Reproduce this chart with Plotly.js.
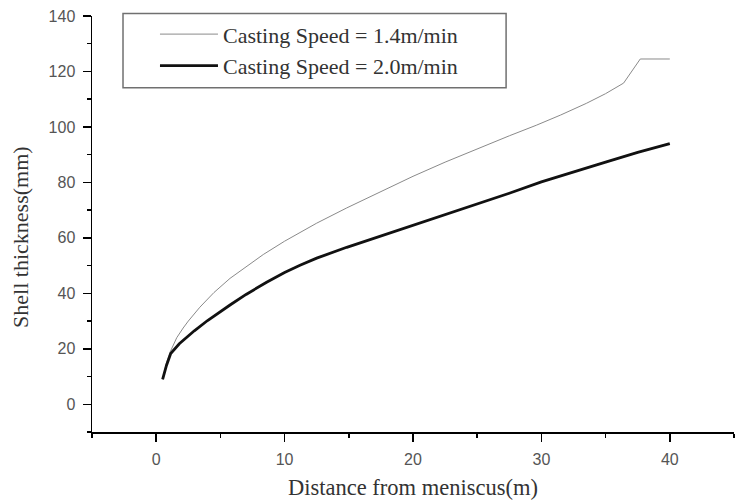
<!DOCTYPE html>
<html>
<head>
<meta charset="utf-8">
<script src="https://cdn.plot.ly/plotly-3.0.1.min.js"></script>
<style>html,body{margin:0;padding:0;background:#fff}#chart{width:743px;height:502px}</style>
</head>
<body>
<div id="chart"></div>
<script>
// Casting speed 1.4 m/min
const dist14 = [0.5, 0.8, 1.1, 1.6, 2.1, 2.5, 3.4, 4.5, 5.75, 7, 8.34, 10, 11.2, 12.5, 14.84, 17.5, 20, 22.5, 25.2, 27.5, 29.6, 31.5, 33.5, 35, 36.4, 37.7, 40];
const shell14 = [9, 15, 19, 24, 27.5, 30, 35, 40.3, 45.4, 49.7, 54, 58.8, 62, 65.3, 70.8, 76.8, 82.2, 87.3, 92.5, 96.8, 100.6, 104.3, 108.5, 112, 115.8, 124.5, 124.5];
// Casting speed 2.0 m/min
const dist20 = [0.5, 0.8, 1.13, 1.8, 2.97, 4, 5.75, 7, 8.6, 10, 11.2, 12.5, 14.84, 17.5, 20, 22.5, 25.2, 27.5, 30, 32.2, 35, 37.5, 40];
const shell20 = [9, 14, 18.3, 21.8, 26.5, 30.2, 35.8, 39.6, 44, 47.5, 50.1, 52.7, 56.6, 60.7, 64.5, 68.4, 72.5, 76.1, 80.2, 83.4, 87.3, 90.8, 94];
const seriesNames = ["Casting Speed = 1.4m/min", "Casting Speed = 2.0m/min"];
const xTitle = "Distance from meniscus(m)";
const yTitle = "Shell thickness(mm)";

const serif = "Liberation Serif, Times New Roman, serif";
const sans = "Liberation Sans, Arial, sans-serif";

const traces = [
  {x: dist14, y: shell14, mode: "lines", name: seriesNames[0],
   line: {color: "#8a8a8a", width: 1}},
  {x: dist20, y: shell20, mode: "lines", name: seriesNames[1],
   line: {color: "#111", width: 2.8}}
];

const axisCommon = {
  showgrid: false, zeroline: false, showline: true, linecolor: "#000", linewidth: 1.5,
  ticks: "outside", ticklen: 8, tickwidth: 1.5, tickcolor: "#000",
  tickfont: {family: sans, size: 16, color: "#555"},
  mirror: false
};

const layout = {
  width: 743, height: 502,
  margin: {l: 92, r: 9, t: 16, b: 70},
  paper_bgcolor: "#fff", plot_bgcolor: "#fff",
  showlegend: true,
  legend: {
    x: 0.0981, y: 1.0065, xanchor: "left", yanchor: "top",
    borderwidth: 0, bgcolor: "rgba(0,0,0,0)",
    font: {family: serif, size: 22, color: "#333"},
    itemwidth: 58
  },
  shapes: [
    {type: "rect", xref: "paper", yref: "paper", x0: 0.0483, x1: 0.645, y0: 0.8277, y1: 1.006,
     line: {color: "#707070", width: 1.5}, fillcolor: "rgba(0,0,0,0)", layer: "above"}
  ],
  annotations: [
    {text: yTitle, xref: "paper", yref: "paper", x: -0.1106, y: 0.469, showarrow: false,
     textangle: -90, xanchor: "center", yanchor: "middle",
     font: {family: serif, size: 22, color: "#333"}}
  ],
  xaxis: Object.assign({}, axisCommon, {
    range: [-5, 45], tickvals: [0, 10, 20, 30, 40], ticklabelstandoff: 4,
    minor: {dtick: 5, tick0: 0, ticks: "outside", ticklen: 4, tickwidth: 1.5, tickcolor: "#000"},
    title: {text: xTitle, font: {family: serif, size: 22.5, color: "#333"}, standoff: 12}
  }),
  yaxis: Object.assign({}, axisCommon, {
    range: [-10, 140], tickvals: [0, 20, 40, 60, 80, 100, 120, 140], ticklabelstandoff: 4,
    minor: {dtick: 10, tick0: 0, ticks: "outside", ticklen: 4, tickwidth: 1.5, tickcolor: "#000"}
  })
};

Plotly.newPlot("chart", traces, layout, {displayModeBar: false, staticPlot: true});
</script>
</body>
</html>
